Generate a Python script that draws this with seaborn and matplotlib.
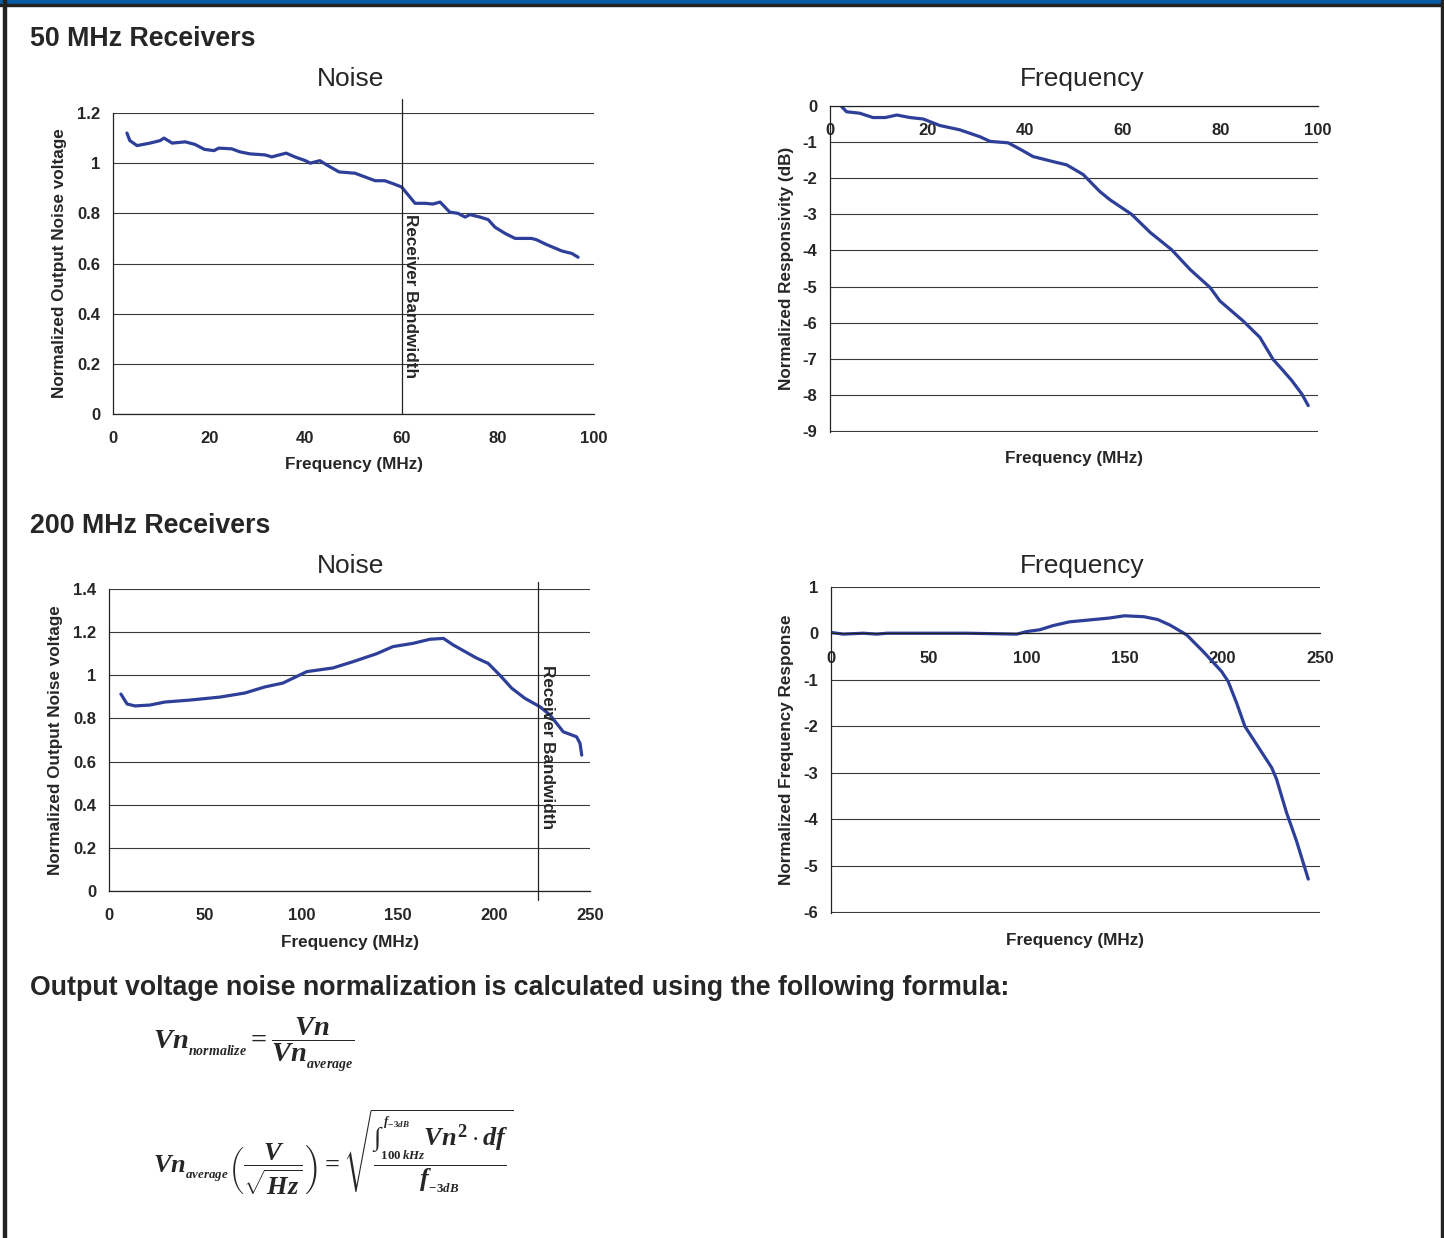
import numpy as np
import pandas as pd
import seaborn as sns
import matplotlib.pyplot as plt
from matplotlib.patches import Rectangle

# ---- data ----
noise50_f = [2.9, 3.5, 5, 7.7, 9.8, 10.6, 12.3, 15, 17, 19, 21, 22, 24.7, 26.4, 28.5, 31.6, 33, 36, 37.8,
             40, 41, 43, 44.7, 47, 50.3, 52.4, 54.5, 56.5, 58.4, 60, 62.8, 64.9, 66.5, 68, 70, 71.7, 73.2,
             74.2, 76.3, 78, 79.4, 81.5, 83.6, 87, 88, 90.2, 93.3, 95.4, 96.7]
noise50_v = [1.12, 1.09, 1.07, 1.08, 1.09, 1.10, 1.08, 1.085, 1.075, 1.055, 1.05, 1.06, 1.057, 1.045, 1.037,
             1.033, 1.025, 1.04, 1.025, 1.01, 1.0, 1.01, 0.99, 0.965, 0.96, 0.945, 0.93, 0.93, 0.917, 0.905,
             0.84, 0.84, 0.837, 0.845, 0.805, 0.80, 0.785, 0.795, 0.785, 0.775, 0.745, 0.72, 0.70, 0.70,
             0.695, 0.675, 0.65, 0.64, 0.625]

resp50_f = [2.4, 3.4, 6.1, 8.8, 11.3, 13.7, 16.4, 19.1, 22.5, 26.6, 30.7, 32.8, 36.5, 39, 41.6, 45.7, 48.5,
            51.9, 55.3, 57.4, 61.8, 65.6, 70, 73.8, 77.9, 79.9, 84.7, 88.1, 90.8, 92.6, 94.6, 96.7, 98]
resp50_db = [-0.02, -0.16, -0.2, -0.32, -0.32, -0.25, -0.32, -0.36, -0.54, -0.66, -0.85, -0.98, -1.02, -1.2,
             -1.4, -1.54, -1.63, -1.9, -2.37, -2.6, -3.0, -3.5, -3.98, -4.53, -5.03, -5.4, -5.96, -6.41,
             -7.02, -7.29, -7.6, -7.98, -8.3]

noise200_f = [6.2, 9.4, 13.5, 21.3, 29, 42, 57.7, 70.7, 81, 90.4, 102.8, 116.4, 126.8, 139.1, 147.6, 158,
              166.8, 173.8, 179, 185, 191, 197.1, 203.2, 209.3, 216.2, 224, 229.2, 236.1, 243, 244.8, 245.7]
noise200_v = [0.913, 0.867, 0.858, 0.862, 0.876, 0.885, 0.899, 0.918, 0.946, 0.964, 1.017, 1.034, 1.063,
              1.10, 1.133, 1.148, 1.167, 1.171, 1.14, 1.11, 1.08, 1.055, 1.0, 0.94, 0.893, 0.854, 0.816,
              0.738, 0.715, 0.685, 0.63]

resp200_f = [0.3, 6.3, 16.5, 23.4, 28.5, 69.4, 95, 100, 106.8, 113.6, 122, 132, 142, 150, 160, 167,
             173.3, 181.8, 190.3, 199.7, 203, 207.4, 211.6, 217.6, 225.3, 227.8, 232.9, 238, 244]
resp200_v = [0.02, -0.015, 0.005, -0.015, 0.005, 0.005, -0.015, 0.04, 0.08, 0.17, 0.25, 0.29, 0.33, 0.38,
             0.36, 0.30, 0.18, -0.03, -0.39, -0.82, -1.03, -1.5, -2.0, -2.39, -2.89, -3.14, -3.86, -4.47,
             -5.29]

bw50 = 60
bw200 = 223

W, H = 1444, 1238
LINE = '#2d3f98'
GRID = '#3a3a3a'

sns.set_style('white')
plt.rcParams['font.family'] = ['Liberation Sans', 'DejaVu Sans']
plt.rcParams['axes.unicode_minus'] = False
plt.rcParams['mathtext.fontset'] = 'custom'
plt.rcParams['mathtext.rm'] = 'Liberation Serif:bold'
plt.rcParams['mathtext.it'] = 'Liberation Serif:italic:bold'
plt.rcParams['mathtext.bf'] = 'Liberation Serif:bold'

fig = plt.figure(figsize=(W / 100, H / 100), dpi=100)


def fx(px):
    return px / W


def fy(py):
    return 1 - py / H


def make_ax(l, t, r, b):
    return fig.add_axes([fx(l), fy(b), fx(r - l), (b - t) / H])


def style(ax, xticks, yticks, ylabels=None, xpad=7, zero_axis=False):
    ax.set_xticks(xticks)
    ax.set_yticks(yticks)
    if ylabels is not None:
        ax.set_yticklabels(ylabels)
    ax.grid(axis='y', color=GRID, lw=0.8)
    ax.grid(axis='x', visible=False)
    for s in ['top', 'right']:
        ax.spines[s].set_visible(False)
    if zero_axis:
        ax.spines['bottom'].set_position(('data', 0))
    for s in ['left', 'bottom']:
        ax.spines[s].set_color('#222')
        ax.spines[s].set_linewidth(0.9)
    ax.tick_params(axis='y', length=4, width=0.8, color='#222', pad=5, labelsize=12)
    ax.tick_params(axis='x', length=4, width=0.8, color='#222', pad=xpad, labelsize=12)
    for lab in ax.get_xticklabels() + ax.get_yticklabels():
        lab.set_fontweight('bold')
    ax.set_xlabel('')
    ax.set_ylabel('')


# ---- 50 MHz noise ----
ax1 = make_ax(113, 113, 594, 414)
sns.lineplot(data=pd.DataFrame({'f': noise50_f, 'v': noise50_v}), x='f', y='v', ax=ax1,
             color=LINE, lw=2.3, estimator=None, sort=False)
ax1.set_xlim(0, 100)
ax1.set_ylim(0, 1.2)
style(ax1, [0, 20, 40, 60, 80, 100], [0, 0.2, 0.4, 0.6, 0.8, 1.0, 1.2],
      ['0', '0.2', '0.4', '0.6', '0.8', '1', '1.2'], xpad=8)
ax1.axvline(bw50, ymin=0, ymax=1.045, color='#222', lw=0.9, clip_on=False)
ax1.annotate('Receiver Bandwidth', xy=(bw50, 0.47), xytext=(6.5, 0), textcoords='offset points',
             rotation=-90, ha='center', va='center', fontsize=12.3, fontweight='bold')

# ---- 50 MHz frequency ----
ax2 = make_ax(830, 106, 1318, 432)
sns.lineplot(data=pd.DataFrame({'f': resp50_f, 'v': resp50_db}), x='f', y='v', ax=ax2,
             color=LINE, lw=2.3, estimator=None, sort=False)
ax2.set_xlim(0, 100)
ax2.set_ylim(-9.03, 0)
style(ax2, [0, 20, 40, 60, 80, 100], list(range(-9, 1)), xpad=8, zero_axis=True)

# ---- 200 MHz noise ----
ax3 = make_ax(109, 589, 590, 891)
sns.lineplot(data=pd.DataFrame({'f': noise200_f, 'v': noise200_v}), x='f', y='v', ax=ax3,
             color=LINE, lw=2.3, estimator=None, sort=False)
ax3.set_xlim(0, 250)
ax3.set_ylim(0, 1.4)
style(ax3, [0, 50, 100, 150, 200, 250], [0, 0.2, 0.4, 0.6, 0.8, 1.0, 1.2, 1.4],
      ['0', '0.2', '0.4', '0.6', '0.8', '1', '1.2', '1.4'], xpad=8)
ax3.axvline(bw200, ymin=-0.03, ymax=1.023, color='#222', lw=0.9, clip_on=False)
ax3.annotate('Receiver Bandwidth', xy=(bw200, 0.668), xytext=(7, 0), textcoords='offset points',
             rotation=-90, ha='center', va='center', fontsize=12.3, fontweight='bold')

# ---- 200 MHz frequency ----
ax4 = make_ax(831, 587, 1320, 913)
sns.lineplot(data=pd.DataFrame({'f': resp200_f, 'v': resp200_v}), x='f', y='v', ax=ax4,
             color=LINE, lw=2.3, estimator=None, sort=False)
ax4.set_xlim(0, 250)
ax4.set_ylim(-6.02, 1)
style(ax4, [0, 50, 100, 150, 200, 250], list(range(-6, 2)), xpad=9, zero_axis=True)

# ---- titles / labels as figure text ----
for x, y in [(351, 79), (351, 566)]:
    fig.text(fx(x), fy(y), 'Noise', fontsize=19, ha='center', va='center')
for x, y in [(1082, 79), (1082, 566)]:
    fig.text(fx(x), fy(y), 'Frequency', fontsize=19, ha='center', va='center')
for x, y in [(354, 465), (1074, 459), (350, 942), (1075, 940)]:
    fig.text(fx(x), fy(y), 'Frequency (MHz)', fontsize=12.3, fontweight='bold', ha='center', va='center')
ylab = dict(rotation=90, fontsize=12.3, fontweight='bold', ha='center', va='center')
fig.text(fx(60), fy(263), 'Normalized Output Noise voltage', **ylab)
fig.text(fx(786), fy(268), 'Normalized Responsivity (dB)', **ylab)
fig.text(fx(56), fy(740), 'Normalized Output Noise voltage', **ylab)
fig.text(fx(786), fy(750), 'Normalized Frequency Response', **ylab)

head = dict(fontsize=19.3, fontweight='bold', ha='left', va='center')
fig.text(fx(30), fy(39), '50 MHz Receivers', **head)
fig.text(fx(30), fy(526), '200 MHz Receivers', **head)
fig.text(fx(30), fy(988), 'Output voltage noise normalization is calculated using the following formula:', **head)

# formula
fig.text(fx(153), fy(1045),
         r'$Vn_{_{normalize}} = \dfrac{Vn}{Vn_{_{average}}}$',
         fontsize=20.5, ha='left', va='center')
fig.text(fx(153), fy(1152),
         r'$Vn_{_{average}}\left(\dfrac{V}{\sqrt{Hz}}\right) = '
         r'\sqrt{\dfrac{\int_{_{100\,kHz}}^{^{f_{-3dB}}} Vn^{2}\cdot df}{f_{_{-3dB}}}}$',
         fontsize=19, ha='left', va='center')

# page frame
fig.patches.append(Rectangle((0, fy(4)), 1, 4 / H, transform=fig.transFigure, color='#0b5aa6', zorder=0))
fig.patches.append(Rectangle((0, fy(6)), 1, 2 / H, transform=fig.transFigure, color='#222', zorder=0))
fig.patches.append(Rectangle((fx(3), 0), 2.5 / W, 1, transform=fig.transFigure, color='#222', zorder=0))
fig.patches.append(Rectangle((fx(1440.5), 0), 2.5 / W, 1, transform=fig.transFigure, color='#222', zorder=0))

fig.savefig('out.png', dpi=100)
